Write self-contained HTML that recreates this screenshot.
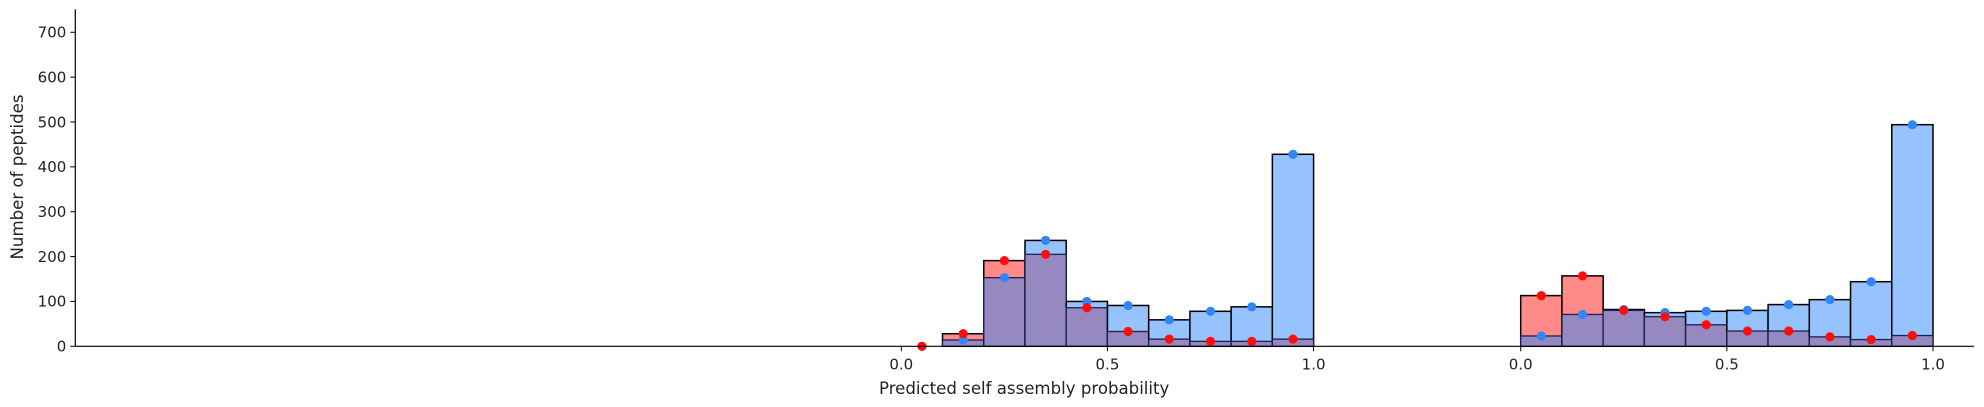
<!DOCTYPE html>
<html><head><meta charset="utf-8">
<style>
html,body{margin:0;padding:0;background:#fff;}
svg{display:block;font-family:"DejaVu Sans","Liberation Sans",sans-serif;}
</style></head>
<body>
<svg id="chart" width="1984" height="407" viewBox="0 0 1984 407">
<g id="bars"></g>
<g id="dots"></g>
<g id="axes"></g>
</svg>
<script>
const binStarts = [0,0.1,0.2,0.3,0.4,0.5,0.6,0.7,0.8,0.9];
const redGroup1 = [0,28,191,205,86,33,16,11,11,16];
const blueGroup1 = [0,14,153,236,100,91,59,78,88,428];
const redGroup2 = [113,157,80,66,48,34,34,21,15,24];
const blueGroup2 = [23,71,82,75,78,80,93,104,144,494];
const yTicks = [0,100,200,300,400,500,600,700];
const xTickValues = [0,0.5,1.0];
const xTickLabels = ["0.0","0.5","1.0"];

const NS="http://www.w3.org/2000/svg";
const axLeft=75.3, axRight=1974, baseY=346.3, topY=9.3, pxPer=0.4486;
const groupOrigins=[901.3,1520.7], unitW=412.3;
function yS(v){return baseY - v*pxPer;}
function xS(g,v){return groupOrigins[g]+v*unitW;}
function mk(tag,attrs,parent){const e=document.createElementNS(NS,tag);for(const k in attrs)e.setAttribute(k,attrs[k]);parent.appendChild(e);return e;}
const bars=document.getElementById('bars'),dots=document.getElementById('dots'),axes=document.getElementById('axes');
const RED='#ff8a87',BLUE='#96c3fd',PURP='#9689c2';
[[redGroup1,blueGroup1],[redGroup2,blueGroup2]].forEach((pair,g)=>{
  const red=pair[0],blue=pair[1];
  binStarts.forEach((b,i)=>{
    const x0=xS(g,b),x1=xS(g,b+0.1);
    const r=red[i],bl=blue[i];
    const hi=Math.max(r,bl),lo=Math.min(r,bl);
    const hiCol=r>bl?RED:BLUE;
    const t=mk('rect',{x:x0,y:yS(hi),width:x1-x0,height:hi*pxPer,fill:hiCol,stroke:'#000','stroke-width':1.5},bars);
    
    
    const l=mk('rect',{x:x0,y:yS(lo),width:x1-x0,height:lo*pxPer,fill:PURP,stroke:'#1a2250','stroke-width':1.3},bars);
    
    
  });
  binStarts.forEach((b,i)=>{
    const cx=xS(g,b+0.05);
    const d1=mk('circle',{cx:cx,cy:yS(blue[i]),r:4.6,fill:'#2f86f6'},dots);
    
    
  });
  binStarts.forEach((b,i)=>{
    const cx=xS(g,b+0.05);
    const d2=mk('circle',{cx:cx,cy:yS(red[i]),r:4.6,fill:'#ff0d0d'},dots);
    
    
  });
  xTickValues.forEach((v,i)=>{
    const x=xS(g,v);
    const tk=mk('line',{x1:x,x2:x,y1:baseY,y2:baseY+5,stroke:'#000','stroke-width':1},axes);
    
    
    const tx=mk('text',{x:x,y:baseY+23,'text-anchor':'middle','font-size':15,fill:'#222'},axes);
    tx.textContent=xTickLabels[i];
    
    
  });
});
yTicks.forEach(v=>{
  const y=yS(v);
  const tk=mk('line',{x1:axLeft-5,x2:axLeft,y1:y,y2:y,stroke:'#000','stroke-width':1},axes);
  
  
  const tx=mk('text',{x:axLeft-9,y:y+5.3,'text-anchor':'end','font-size':15,fill:'#222'},axes);
  tx.textContent=String(v);
  
  
});
const ya=mk('line',{x1:axLeft,x2:axLeft,y1:topY,y2:baseY,stroke:'#000','stroke-width':1.2},axes);


const xa=mk('line',{x1:axLeft,x2:axRight,y1:baseY,y2:baseY,stroke:'#000','stroke-width':1.2},axes);


const xl=mk('text',{x:879,y:394,'font-size':16.6,fill:'#222'},axes);
xl.textContent='Predicted self assembly probability';


const yl=mk('text',{x:0,y:0,'font-size':16.6,fill:'#222','text-anchor':'middle',transform:'translate(23,177) rotate(-90)'},axes);
yl.textContent='Number of peptides';


</script>
</body></html>
